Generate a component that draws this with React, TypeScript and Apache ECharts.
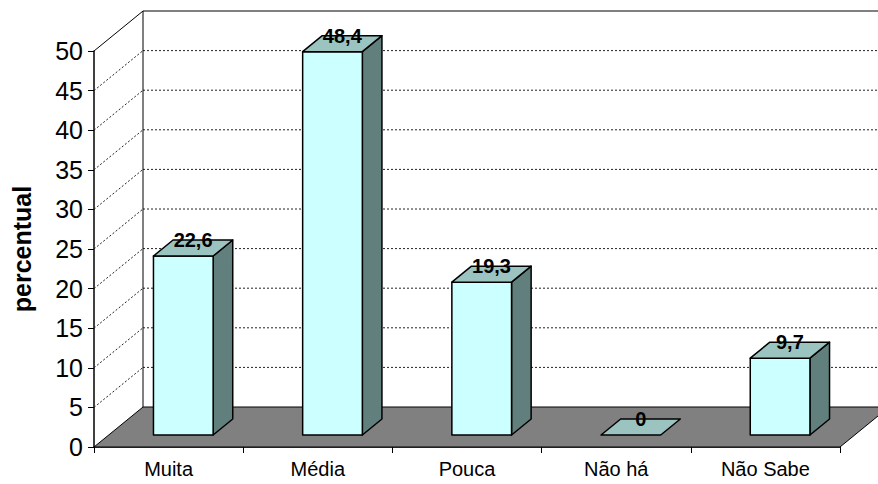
import React, { useEffect, useRef } from "react";
import * as echarts from "echarts";

// Survey answers (percent) per category
const categories = ["Muita", "Média", "Pouca", "Não há", "Não Sabe"];
const values = [22.6, 48.4, 19.3, 0, 9.7];

// Value axis
const Y_MIN = 0;
const Y_MAX = 50;
const Y_STEP = 5;
const Y_TITLE = "percentual";

// Oblique 3D projection of the chart box (pixels)
const DEPTH_X = 49;
const DEPTH_Y = 40;
const BAR_FRONT = 0.3; // fraction of box depth where bars start
const BAR_BACK = 0.7; // fraction of box depth where bars end
const BAR_WIDTH = 0.4; // fraction of a category band

const FONT = "'Liberation Sans', Arial, Helvetica, sans-serif";

const fmt = (v: number) => String(v).replace(".", ",");

export default function App() {
  const ref = useRef<HTMLDivElement>(null);

  useEffect(() => {
    document.body.style.margin = "0";
    const chart = echarts.init(ref.current!, undefined, { renderer: "svg" });

    const wallsRender = (params: any, api: any) => {
      const cs = params.coordSys;
      const x0 = cs.x;
      const x1 = cs.x + cs.width;
      const yb = cs.y + cs.height;
      const children: any[] = [];
      children.push({
        type: "polygon",
        shape: {
          points: [
            [x0, yb],
            [x1, yb],
            [x1 + DEPTH_X, yb - DEPTH_Y],
            [x0 + DEPTH_X, yb - DEPTH_Y],
          ],
        },
        style: { fill: "#808080", stroke: "#000", lineWidth: 1 },
      });
      for (let v = Y_MIN + Y_STEP; v <= Y_MAX; v += Y_STEP) {
        const yv = api.coord([0, v])[1];
        const top = v === Y_MAX;
        const st = top
          ? { stroke: "#000", lineWidth: 1 }
          : { stroke: "#222", lineWidth: 1, lineDash: [2, 2] };
        children.push({
          type: "line",
          shape: { x1: x0 + DEPTH_X, y1: yv - DEPTH_Y, x2: x1 + DEPTH_X, y2: yv - DEPTH_Y },
          style: st,
        });
        children.push({
          type: "line",
          shape: { x1: x0, y1: yv, x2: x0 + DEPTH_X, y2: yv - DEPTH_Y },
          style: st,
        });
      }
      const yTop = api.coord([0, Y_MAX])[1];
      children.push({
        type: "line",
        shape: { x1: x0 + DEPTH_X, y1: yTop - DEPTH_Y, x2: x0 + DEPTH_X, y2: yb - DEPTH_Y },
        style: { stroke: "#000", lineWidth: 1 },
      });
      return { type: "group", children };
    };

    const barsRender = (params: any, api: any) => {
      const i = api.value(0);
      const v = api.value(1);
      const base = api.coord([i, 0]);
      const topPt = api.coord([i, v]);
      const w = api.size([1, 0])[0] * BAR_WIDTH;
      const fx = DEPTH_X * BAR_FRONT;
      const fy = DEPTH_Y * BAR_FRONT;
      const dx = DEPTH_X * (BAR_BACK - BAR_FRONT);
      const dy = DEPTH_Y * (BAR_BACK - BAR_FRONT);
      const xl = base[0] - w / 2 + fx;
      const xr = xl + w;
      const by = base[1] - fy;
      const ty = topPt[1] - fy;
      const outline = { stroke: "#000", lineWidth: 1.5, lineJoin: "round" };
      const children: any[] = [];
      if (by - ty > 0.5) {
        children.push({
          type: "polygon",
          shape: { points: [[xr, ty], [xr + dx, ty - dy], [xr + dx, by - dy], [xr, by]] },
          style: { fill: "#61807d", ...outline },
        });
        children.push({
          type: "rect",
          shape: { x: xl, y: ty, width: w, height: by - ty },
          style: { fill: "#ccffff", ...outline },
        });
      }
      children.push({
        type: "polygon",
        shape: { points: [[xl, ty], [xr, ty], [xr + dx, ty - dy], [xl + dx, ty - dy]] },
        style: { fill: "#9bc3c0", ...outline },
      });
      children.push({
        type: "text",
        style: {
          x: xl + w / 2 + dx / 2,
          y: ty - dy / 2 - 8,
          text: fmt(v),
          align: "center",
          verticalAlign: "middle",
          fill: "#000",
          font: `bold 20px ${FONT}`,
        },
      });
      return { type: "group", children };
    };

    chart.setOption({
      animation: false,
      backgroundColor: "#ffffff",
      textStyle: { fontFamily: FONT },
      grid: { left: 94, right: 38, top: 51, bottom: 37, containLabel: false },
      xAxis: {
        type: "category",
        data: categories,
        boundaryGap: true,
        axisLine: { show: true, lineStyle: { color: "#000", width: 1.5 } },
        axisTick: { show: true, alignWithLabel: false, length: 6, lineStyle: { color: "#000" } },
        axisLabel: { color: "#000", fontSize: 20, margin: 12, fontFamily: FONT },
        splitLine: { show: false },
      },
      yAxis: {
        type: "value",
        min: Y_MIN,
        max: Y_MAX,
        interval: Y_STEP,
        name: Y_TITLE,
        nameLocation: "middle",
        nameRotate: 90,
        nameGap: 60,
        nameTextStyle: { color: "#000", fontSize: 25, fontWeight: "bold", fontFamily: FONT },
        axisLine: { show: true, lineStyle: { color: "#000", width: 1.5 } },
        axisTick: { show: true, length: 6, lineStyle: { color: "#000" } },
        axisLabel: { color: "#000", fontSize: 25, margin: 11, fontFamily: FONT },
        splitLine: { show: false },
      },
      series: [
        {
          type: "custom",
          name: "walls",
          z: 1,
          clip: false,
          silent: true,
          data: [[0, 0]],
          encode: { x: 0, y: 1 },
          renderItem: wallsRender,
        },
        {
          type: "custom",
          name: "bars",
          z: 3,
          clip: false,
          data: values.map((v, i) => [i, v]),
          encode: { x: 0, y: 1 },
          renderItem: barsRender,
        },
      ],
    });

    return () => chart.dispose();
  }, []);

  return <div ref={ref} style={{ width: 878, height: 484 }} />;
}
